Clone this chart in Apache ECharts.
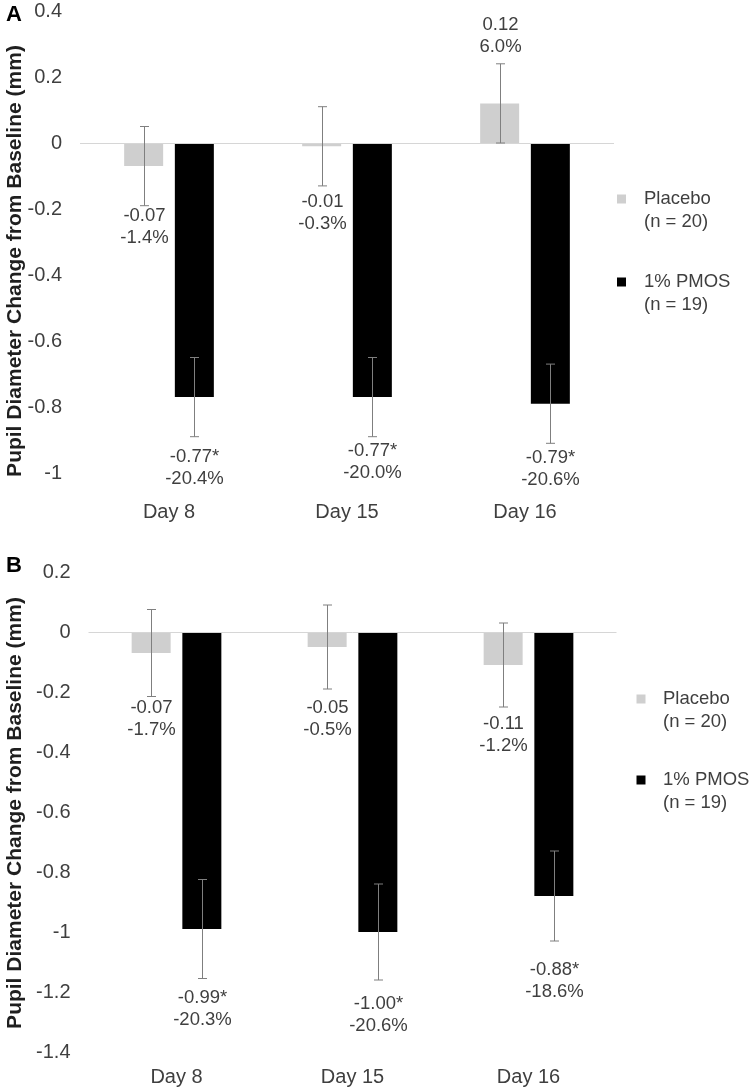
<!DOCTYPE html>
<html><head><meta charset="utf-8">
<script src="https://cdn.jsdelivr.net/npm/echarts@6/dist/echarts.min.js"></script>
<style>html,body{margin:0;padding:0;background:#fff}#c{width:750px;height:1089px}</style>
</head><body><div id="c"></div>
<script>
// ---------- data ----------
const categories = ['Day 8', 'Day 15', 'Day 16'];
const seriesNames = ['Placebo', '1% PMOS'];
const groupN = [20, 19];

// Panel A
const placeboA = [-0.07, -0.01, 0.12];
const pmosA = [-0.77, -0.77, -0.79];
const placeboErrA = [0.12, 0.12, 0.12];
const pmosErrA = [0.12, 0.12, 0.12];
const placeboPctA = ['-1.4%', '-0.3%', '6.0%'];
const pmosPctA = ['-20.4%', '-20.0%', '-20.6%'];

// Panel B
const placeboB = [-0.07, -0.05, -0.11];
const pmosB = [-0.99, -1.00, -0.88];
const placeboErrB = [0.145, 0.14, 0.14];
const pmosErrB = [0.165, 0.16, 0.15];
const placeboPctB = ['-1.7%', '-0.5%', '-1.2%'];
const pmosPctB = ['-20.3%', '-20.6%', '-18.6%'];

const pmosSignificant = [true, true, true];

const yAxisA = { min: -1, max: 0.4, interval: 0.2 };
const yAxisB = { min: -1.4, max: 0.2, interval: 0.2 };

const yTitle = 'Pupil Diameter Change from Baseline (mm)';
const panelLetters = ['A', 'B'];

// ---------- layout / style ----------
const FONT = '"Liberation Sans", Arial, sans-serif';
const TXT = '#3f3f3f';
const PLACEBO_C = '#cfcfcf';
const PMOS_C = '#000000';
const BAR_W = 39;
const BAR_GAP = 0.3;
const OFF = (BAR_W + BAR_W * BAR_GAP) / 2;
// label distance (px) from error-bar end to first line centre
const labelGapA = [[10, 16, 17], [20, 14, 15]];
const labelGapB = [[11, 19, 17], [19, 24, 29]];

function labelText(v, pct, sig) {
  return v.toFixed(2) + (sig ? '*' : '') + '\n' + pct;
}

function errSeries(gridIdx, values, errs, pcts, sigs, gaps, offset) {
  return {
    type: 'custom',
    xAxisIndex: gridIdx, yAxisIndex: gridIdx,
    z: 5, clip: false, silent: true,
    encode: { x: 0, y: 1 },
    data: categories.map((c, k) => [k, values[k], errs[k]]),
    renderItem: function (params, api) {
      const i = params.dataIndex;
      const cat = api.value(0), v = api.value(1), e = api.value(2);
      const x = Math.round(api.coord([cat, v])[0] + offset) + 0.5;
      const yHi = api.coord([cat, v + e])[1];
      const yLo = api.coord([cat, v - e])[1];
      const cap = 4.5;
      const st = { stroke: '#7f7f7f', lineWidth: 1 };
      const above = v > 0;
      const txt = labelText(v, pcts[i], sigs && sigs[i]);
      return {
        type: 'group',
        children: [
          { type: 'line', shape: { x1: x, y1: yHi, x2: x, y2: yLo }, style: st },
          { type: 'line', shape: { x1: x - cap, y1: yHi, x2: x + cap, y2: yHi }, style: st },
          { type: 'line', shape: { x1: x - cap, y1: yLo, x2: x + cap, y2: yLo }, style: st },
          {
            type: 'text',
            style: {
              text: txt, x: x,
              y: above ? (yHi - gaps[i] + 11) : (yLo + gaps[i] - 11),
              align: 'center', verticalAlign: above ? 'bottom' : 'top',
              fontSize: 18.5, fontFamily: FONT, fill: TXT, lineHeight: 22
            }
          }
        ]
      };
    }
  };
}

function barSeries(gridIdx, name, values, color, withZero) {
  const s = {
    type: 'bar', name: name,
    xAxisIndex: gridIdx, yAxisIndex: gridIdx,
    data: values, barWidth: BAR_W, barGap: (BAR_GAP * 100) + '%',
    itemStyle: { color: color }, silent: true
  };
  if (withZero) {
    s.markLine = {
      silent: true, symbol: 'none', label: { show: false },
      lineStyle: { color: '#d6d6d6', type: 'solid', width: 1 },
      data: [{ yAxis: 0 }]
    };
  }
  return s;
}

function legendGraphics(markerX, textX, ys) {
  const out = [];
  const cols = [PLACEBO_C, PMOS_C];
  seriesNames.forEach((n, k) => {
    out.push({ type: 'rect', shape: { x: markerX - 4.5, y: ys[k] - 4.5, width: 9, height: 9 }, style: { fill: cols[k] } });
    out.push({
      type: 'text', x: textX, y: ys[k] - 11.5,
      style: { text: n + '\n(n = ' + groupN[k] + ')', fontSize: 18.5, fontFamily: FONT, fill: TXT, lineHeight: 23, verticalAlign: 'top', align: 'left' }
    });
  });
  return out;
}

const axisLbl = { fontSize: 20, fontFamily: FONT, color: TXT };

const option = {
  animation: false,
  backgroundColor: '#ffffff',
  grid: [
    { left: 80, width: 534, top: 11, height: 462 },
    { left: 88.5, width: 528, top: 572, height: 480 }
  ],
  xAxis: [0, 1].map(g => ({
    type: 'category', gridIndex: g, data: categories,
    axisLine: { show: false }, axisTick: { show: false },
    axisLabel: Object.assign({ margin: g === 0 ? 29 : 15 }, axisLbl)
  })),
  yAxis: [yAxisA, yAxisB].map((a, g) => ({
    type: 'value', gridIndex: g, min: a.min, max: a.max, interval: a.interval,
    splitLine: { show: false }, axisLine: { show: false }, axisTick: { show: false },
    axisLabel: Object.assign({ margin: 18 }, axisLbl)
  })),
  series: [
    barSeries(0, seriesNames[0], placeboA, PLACEBO_C, true),
    barSeries(0, seriesNames[1], pmosA, PMOS_C, false),
    barSeries(1, seriesNames[0], placeboB, PLACEBO_C, true),
    barSeries(1, seriesNames[1], pmosB, PMOS_C, false),
    errSeries(0, placeboA, placeboErrA, placeboPctA, null, labelGapA[0], -OFF),
    errSeries(0, pmosA, pmosErrA, pmosPctA, pmosSignificant, labelGapA[1], OFF),
    errSeries(1, placeboB, placeboErrB, placeboPctB, null, labelGapB[0], -OFF),
    errSeries(1, pmosB, pmosErrB, pmosPctB, pmosSignificant, labelGapB[1], OFF)
  ],
  graphic: [
    { type: 'text', x: 15, y: 261, rotation: Math.PI / 2,
      style: { text: yTitle, align: 'center', verticalAlign: 'middle', fontSize: 21, fontWeight: 'bold', fontFamily: FONT, fill: '#1f1f1f' } },
    { type: 'text', x: 15, y: 813, rotation: Math.PI / 2,
      style: { text: yTitle, align: 'center', verticalAlign: 'middle', fontSize: 21, fontWeight: 'bold', fontFamily: FONT, fill: '#1f1f1f' } },
    { type: 'text', x: 14, y: 15,
      style: { text: panelLetters[0], align: 'center', verticalAlign: 'middle', fontSize: 22, fontWeight: 'bold', fontFamily: FONT, fill: '#000' } },
    { type: 'text', x: 14, y: 566,
      style: { text: panelLetters[1], align: 'center', verticalAlign: 'middle', fontSize: 22, fontWeight: 'bold', fontFamily: FONT, fill: '#000' } }
  ].concat(legendGraphics(621.5, 644, [199, 282]))
   .concat(legendGraphics(641, 663, [699, 780]))
};

const chart = echarts.init(document.getElementById('c'), null, { renderer: 'canvas' });
chart.setOption(option);
</script>
</body></html>
